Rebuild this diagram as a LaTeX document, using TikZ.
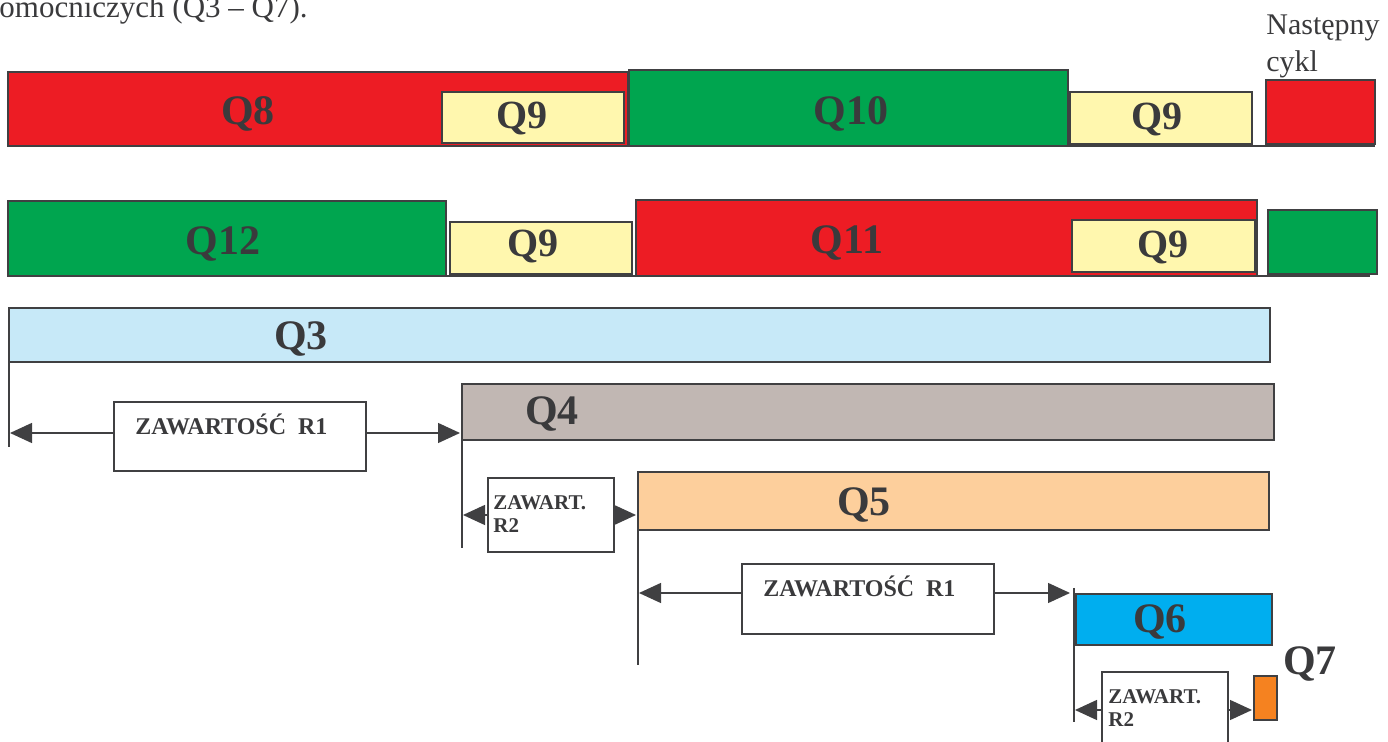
\documentclass[tikz,border=0pt]{standalone}
\usepackage{fontspec}
\setmainfont{Liberation Serif}
\usetikzlibrary{fit,arrows.meta}

\definecolor{ink}{HTML}{3A3A3C}
\definecolor{edge}{HTML}{404042}
\definecolor{qred}{HTML}{ED1C24}
\definecolor{qgreen}{HTML}{00A54F}
\definecolor{qyellow}{HTML}{FFF7AE}
\definecolor{qsky}{HTML}{C7E9F8}
\definecolor{qtaupe}{HTML}{C1B7B3}
\definecolor{qpeach}{HTML}{FDCF9C}
\definecolor{qblue}{HTML}{00AEEF}
\definecolor{qorange}{HTML}{F58220}

\begin{document}
\begin{tikzpicture}[x=0.5pt,y=-0.5pt,
  bar/.style={draw=edge, line width=1pt, inner sep=0pt, outer sep=0pt},
  note/.style={draw=edge, line width=0.8pt, fill=white, inner sep=0pt, outer sep=0pt},
  qlabel/.style={text=ink, font=\fontsize{21}{25}\selectfont\bfseries, inner sep=0pt, anchor=base},
  qsmall/.style={text=ink, font=\fontsize{20}{24}\selectfont\bfseries, inner sep=0pt, anchor=base},
  notetext/.style={text=ink, font=\fontsize{12}{14}\selectfont\bfseries, inner sep=0pt, anchor=base west},
  shorttext/.style={text=ink, font=\fontsize{10.5}{11.5}\selectfont\bfseries, inner sep=0pt, anchor=base west, align=left},
  plain/.style={text=ink, inner sep=0pt, anchor=base west, align=left},
  dim/.style={draw=edge, line width=0.7pt, -{Triangle[length=11pt,width=10pt]}},
  tick/.style={draw=edge, line width=1pt},
  rule/.style={draw=edge, line width=1pt}
]
\useasboundingbox (0,0) rectangle (1388,742);

% caption fragment above the chart
\node[plain, font=\fontsize{15.5}{18}\selectfont] (cap) at (-1,18) {omocniczych (Q3 – Q7).};

% ---- first row ----
\node[bar, fill=qred, fit={(8,72) (628,146)}] (q8) {};
\node[bar, fill=qyellow, fit={(442,92) (624,143)}] (q9a) {};
\node[bar, fill=qgreen, fit={(629,70) (1068,146)}] (q10) {};
\node[bar, fill=qyellow, fit={(1070,92) (1252,144)}] (q9b) {};
\node[bar, fill=qred, fit={(1266,80) (1375,144)}] (nx1) {};
\draw[rule] (q8.south west) -- (q8.south west -| nx1.east);
\node[qlabel] (l8) at (248,125) {Q8};
\node[qsmall] (l9a) at (522,129) {Q9};
\node[qlabel] (l10) at (851,125) {Q10};
\node[qsmall] (l9b) at (1157,130) {Q9};
% multi-line nodes: base anchor sits on the last line
\node[plain, font=\fontsize{15}{18.5}\selectfont] (next) at (1266,72) {Następny\\cykl};

% ---- second row ----
\node[bar, fill=qgreen, fit={(8,201) (446,276)}] (q12) {};
\node[bar, fill=qyellow, fit={(450,222) (632,274)}] (q9c) {};
\node[bar, fill=qred, fit={(636,200) (1257,276)}] (q11) {};
\node[bar, fill=qyellow, fit={(1072,220) (1255,272)}] (q9d) {};
\node[bar, fill=qgreen, fit={(1268,210) (1377,274)}] (nx2) {};
\draw[rule] (q12.south west) -- ++(1362,0);
\node[qlabel] (l12) at (223,255) {Q12};
\node[qsmall] (l9c) at (533,257) {Q9};
\node[qlabel] (l11) at (847,254) {Q11};
\node[qsmall] (l9d) at (1163,258) {Q9};

% ---- auxiliary timers ----
\node[bar, fill=qsky, fit={(9,308) (1270,362)}] (q3) {};
\node[bar, fill=qtaupe, fit={(462,384) (1274,440)}] (q4) {};
\node[bar, fill=qpeach, fit={(638,472) (1269,530)}] (q5) {};
\node[bar, fill=qblue, fit={(1076,594) (1272,645)}] (q6) {};
\node[bar, fill=qorange, fit={(1254,676) (1277,720)}] (q7) {};
\node[qlabel] (l3) at (301,350) {Q3};
\node[qlabel] (l4) at (552,425) {Q4};
\node[qlabel] (l5) at (864,516) {Q5};
\node[qlabel] (l6) at (1160,633) {Q6};
\node[qlabel] (l7) at (1310,675) {Q7};

% start markers
\draw[tick] (q3.south west) -- ++(0,85);
\draw[tick] (q4.south west) -- ++(0,108);
\draw[tick] (q5.south west) -- ++(0,135);
\draw[tick] ([shift={(-2,-6)}]q6.north west) -- ++(0,134);

% register contents boxes
\node[note, fit={(114,402) (366,471)}] (r1a) {};
\node[notetext] (r1at) at (135,435) {ZAWARTOŚĆ\ \ R1};
\node[note, fit={(488,478) (614,552)}] (r2a) {};
\node[shorttext] (r2at) at (493,533) {ZAWART.\\R2};
\node[note, fit={(742,564) (994,634)}] (r1b) {};
\node[notetext] (r1bt) at (763,597) {ZAWARTOŚĆ\ \ R1};
\node[note, fit={(1102,672) (1228,760)}] (r2b) {};
\node[shorttext] (r2bt) at (1108,727) {ZAWART.\\R2};

% interval arrows
\coordinate (t1) at (10,433);
\draw[dim] (r1a.west |- t1) -- (t1);
\draw[dim] (r1a.east |- t1) -- ([xshift=-1]q4.west |- t1);
\coordinate (t2) at (463,515);
\draw[dim] (r2a.west |- t2) -- (t2);
\draw[dim] (r2a.east |- t2) -- ([xshift=-1]q5.west |- t2);
\coordinate (t3) at (639,593);
\draw[dim] (r1b.west |- t3) -- (t3);
\draw[dim] (r1b.east |- t3) -- ([xshift=-3]q6.west |- t3);
\coordinate (t4) at (1075,710);
\draw[dim] (r2b.west |- t4) -- (t4);
\draw[dim] (r2b.east |- t4) -- ([xshift=-1]q7.west |- t4);
\end{tikzpicture}
\end{document}
